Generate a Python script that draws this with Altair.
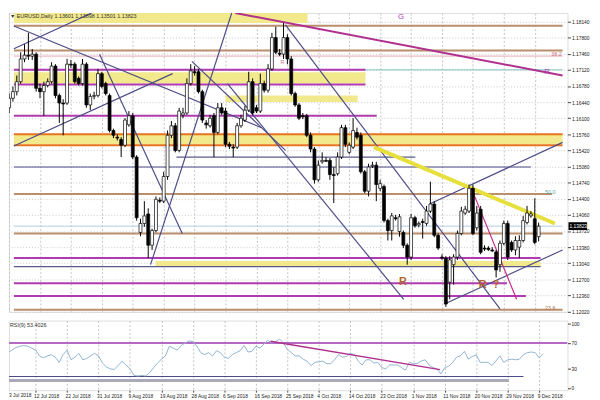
import altair as alt
import pandas as pd

# ---------------- data ----------------
opens = [1.1632,1.1652,1.1666,1.1687,1.1735,1.1743,1.1741,1.1745,1.1673,1.1666,
         1.1679,1.1687,1.1720,1.1658,1.1642,1.1642,1.1724,1.1724,1.1694,1.1683,
         1.1724,1.1638,1.1656,1.1658,1.1704,1.1683,1.1658,1.1584,1.1570,1.1565,
         1.1553,1.1596,1.1615,1.1528,1.1369,1.1388,1.1408,1.1342,1.1373,1.1437,
         1.1435,1.1487,1.1574,1.1594,1.1542,1.1617,1.1621,1.1683,1.1708,1.1708,
         1.1666,1.1600,1.1594,1.1615,1.1580,1.1632,1.1625,1.1555,1.1549,1.1549,
         1.1594,1.1606,1.1627,1.1687,1.1632,1.1625,1.1683,1.1669,1.1714,1.1780,
         1.1747,1.1745,1.1780,1.1735,1.1662,1.1638,1.1615,1.1615,1.1574,1.1545,
         1.1480,1.1518,1.1521,1.1521,1.1491,1.1493,1.1528,1.1590,1.1538,1.1549,
         1.1580,1.1574,1.1497,1.1456,1.1509,1.1511,1.1462,1.1466,1.1394,1.1373,
         1.1400,1.1371,1.1369,1.1342,1.1317,1.1400,1.1385,1.1392,1.1388,1.1414,
         1.1429,1.1363,1.1317,1.1315,1.1264,1.1301,1.1317,1.1367,1.1410,1.1414,
         1.1462,1.1379,1.1418,1.1336,1.1336,1.1332,1.1328,1.1301,1.1346,1.1388,
         1.1348,1.1332,1.1338,1.1352,1.1390,1.1404,1.1398,1.13601]
highs = [1.1662,1.1677,1.1700,1.1749,1.1766,1.1790,1.1756,1.1749,1.1683,1.1687,
         1.1694,1.1728,1.1724,1.1662,1.1650,1.1735,1.1733,1.1728,1.1698,1.1735,
         1.1728,1.1662,1.1666,1.1714,1.1708,1.1687,1.1662,1.1588,1.1576,1.1570,
         1.1610,1.1625,1.1621,1.1532,1.1398,1.1435,1.1420,1.1377,1.1445,1.1443,
         1.1497,1.1584,1.1604,1.1600,1.1632,1.1632,1.1694,1.1724,1.1720,1.1714,
         1.1670,1.1606,1.1617,1.1621,1.1642,1.1642,1.1632,1.1560,1.1555,1.1600,
         1.1617,1.1636,1.1708,1.1694,1.1638,1.1704,1.1689,1.1724,1.1790,1.1803,
         1.1756,1.1811,1.1787,1.1741,1.1666,1.1642,1.1621,1.1619,1.1580,1.1549,
         1.1521,1.1538,1.1528,1.1526,1.1507,1.1538,1.1596,1.1596,1.1559,1.1610,
         1.1590,1.1580,1.1501,1.1514,1.1518,1.1518,1.1480,1.1470,1.1398,1.1410,
         1.1406,1.1408,1.1373,1.1346,1.1408,1.1404,1.1392,1.1398,1.1425,1.1476,
         1.1435,1.1367,1.1323,1.1319,1.1319,1.1323,1.1373,1.1423,1.1425,1.1470,
         1.1470,1.1425,1.1425,1.1342,1.1340,1.1338,1.1332,1.1352,1.1394,1.1394,
         1.1352,1.1361,1.1363,1.1404,1.1425,1.1414,1.1441,1.13898]
lows = [1.1621,1.1645,1.1658,1.1683,1.1728,1.1733,1.1733,1.1666,1.1652,1.1615,
        1.1675,1.1683,1.1652,1.1600,1.1574,1.1638,1.1716,1.1683,1.1679,1.1679,
        1.1632,1.1627,1.1650,1.1654,1.1673,1.1658,1.1580,1.1568,1.1563,1.1528,
        1.1549,1.1592,1.1524,1.1394,1.1361,1.1381,1.1315,1.1332,1.1369,1.1431,
        1.1431,1.1480,1.1568,1.1538,1.1538,1.1610,1.1617,1.1679,1.1700,1.1662,
        1.1600,1.1588,1.1590,1.1528,1.1576,1.1617,1.1549,1.1545,1.1528,1.1545,
        1.1590,1.1602,1.1623,1.1617,1.1621,1.1621,1.1664,1.1664,1.1710,1.1745,
        1.1741,1.1735,1.1724,1.1658,1.1634,1.1606,1.1608,1.1570,1.1538,1.1472,
        1.1476,1.1514,1.1518,1.1480,1.1431,1.1489,1.1524,1.1549,1.1534,1.1545,
        1.1565,1.1493,1.1452,1.1445,1.1505,1.1435,1.1456,1.1390,1.1352,1.1352,
        1.1394,1.1360,1.1336,1.1301,1.1311,1.1379,1.1380,1.1356,1.1383,1.1410,
        1.1359,1.1332,1.1311,1.1212,1.1228,1.1259,1.1311,1.1363,1.1406,1.1410,
        1.1363,1.1373,1.1323,1.1330,1.1330,1.1328,1.1274,1.1286,1.1342,1.1311,
        1.1328,1.1321,1.1315,1.1348,1.1386,1.1400,1.1344,1.13501]
closes = [1.1652,1.1666,1.1687,1.1735,1.1743,1.1741,1.1745,1.1673,1.1666,1.1679,
          1.1687,1.1720,1.1658,1.1642,1.1640,1.1724,1.1722,1.1687,1.1683,1.1724,
          1.1638,1.1656,1.1658,1.1704,1.1677,1.1662,1.1584,1.1574,1.1568,1.1553,
          1.1606,1.1615,1.1528,1.1400,1.1388,1.1404,1.1342,1.1373,1.1439,1.1435,
          1.1487,1.1574,1.1594,1.1542,1.1625,1.1621,1.1683,1.1710,1.1706,1.1666,
          1.1606,1.1596,1.1610,1.1580,1.1632,1.1621,1.1555,1.1551,1.1547,1.1594,
          1.1610,1.1627,1.1687,1.1621,1.1625,1.1683,1.1669,1.1714,1.1780,1.1749,
          1.1745,1.1780,1.1735,1.1662,1.1638,1.1610,1.1613,1.1574,1.1545,1.1480,
          1.1511,1.1521,1.1519,1.1491,1.1489,1.1528,1.1590,1.1555,1.1553,1.1584,
          1.1570,1.1497,1.1456,1.1507,1.1511,1.1470,1.1472,1.1394,1.1373,1.1404,
          1.1398,1.1402,1.1342,1.1317,1.1400,1.1383,1.1388,1.1390,1.1414,1.1429,
          1.1363,1.1336,1.1315,1.1218,1.1311,1.1317,1.1367,1.1414,1.1418,1.1462,
          1.1367,1.1410,1.1327,1.1334,1.1333,1.1330,1.1290,1.1346,1.1388,1.1317,
          1.1332,1.1352,1.1352,1.1394,1.1410,1.1408,1.1348,1.13823]
rsi = [52,55,59,63,65,66,65,62,59,50,
       47,50,52,48,40,52,59,44,48,54,
       44,46,50,54,50,39,33,30,29,35,
       42,36,30,20,19,20,19,24,32,39,
       45,50,65,62,59,66,70,73,72,65,
       55,52,55,50,58,55,48,46,52,55,
       58,66,56,57,65,62,68,74,70,72,
       76,70,60,55,50,50,45,42,35,40,
       41,42,38,38,44,52,48,49,54,52,
       42,36,44,44,39,40,32,30,36,36,
       36,32,28,40,38,38,42,44,36,32,
       30,22,32,34,40,48,50,57,45,49,
       52,40,40,40,35,42,50,40,44,45,
       44,45,52,55,56,55,47,53.4]

date_labels = ["3 Jul 2018", "12 Jul 2018", "22 Jul 2018", "31 Jul 2018", "9 Aug 2018",
               "19 Aug 2018", "28 Aug 2018", "6 Sep 2018", "16 Sep 2018", "25 Sep 2018",
               "4 Oct 2018", "14 Oct 2018", "23 Oct 2018", "1 Nov 2018", "11 Nov 2018",
               "20 Nov 2018", "29 Nov 2018", "9 Dec 2018"]
date_bars = list(range(0, 137, 8))
price_ticks = [1.18140, 1.17800, 1.17460, 1.17120, 1.16780, 1.16440, 1.16100, 1.15760,
               1.15420, 1.15080, 1.14740, 1.14400, 1.14060, 1.13720, 1.13380, 1.13040,
               1.12700, 1.12360, 1.12020]
rsi_ticks = [100, 70, 30, 0]
last_price = 1.13823

# horizontal levels: start bar, end bar, price, kind
lvl_x1 = [-1, -1, -1, -1, -1, -1, -1, -1, -1, 43.3, -1, -1, -1, -1, -1, -1, -1, -1, -1]
lvl_x2 = [145, 145, 145, 145, 92.2, 92.2, 95.1, 145, 145, 105.1, 135.0, 140.5, 145, 145,
          137.5, 137.5, 128.8, 133.7, 145]
lvl_p = [1.1805, 1.1753, 1.1741, 1.1712, 1.1712, 1.1681, 1.1615, 1.1576, 1.1553, 1.1528,
         1.1507, 1.1450, 1.1367, 1.13823, 1.1315, 1.1297, 1.1262, 1.1235, 1.1206]
lvl_kind = ["brown", "brown", "pink", "teal", "magenta", "magenta", "magenta", "orange",
            "orange", "navy1", "navy", "brown", "brown", "bid", "magenta", "navy1",
            "magenta", "magenta", "brown"]

# yellow zones: start bar, end bar, low price, high price
zone_x1 = [-1, -1, 56.0, -1, 37.9]
zone_x2 = [77.2, 92.2, 90.2, 145, 137.5]
zone_lo = [1.1811, 1.1683, 1.1644, 1.1555, 1.1297]
zone_hi = [1.1845, 1.1707, 1.1658, 1.1576, 1.1309]

# trend lines: bar1, price1, bar2, price2, kind
tl_x1 = [-0.75, -0.75, -0.75, 23.4, 71.5, 56.5, 108.8, 112.6, 50.8, 94.4, 119.6, 36.6, 47.3]
tl_p1 = [1.1749, 1.1544, 1.1811, 1.1745, 1.1807, 1.1683, 1.1429, 1.1218, 1.1844, 1.1549,
         1.1462, 1.1301, 1.1730]
tl_x2 = [25.9, 42.3, 65.3, 44.8, 127.0, 102.1, 143.2, 143.2, 143.2, 141.2, 131.3, 57.6, 71.5]
tl_p2 = [1.1849, 1.1704, 1.1590, 1.1367, 1.1208, 1.1228, 1.1559, 1.1332, 1.1700, 1.1388,
         1.1228, 1.1832, 1.1542]
tl_kind = ["navy", "navy", "navy", "navy", "navy", "navy", "navy", "navy", "magenta2",
           "yellow", "pinkline", "navy", "navy"]

# RSI panel levels
rl_x2 = [145, 132.0, 128.3]
rl_v = [70, 18.2, 12.1]
rl_kind = ["rsi70", "navy", "gray"]
div_x = [67.7, 110.8]
div_v = [72.7, 28.8]

# labels on the chart
lab_x = [101.4, 70.7, 139.2, 101.9, 122.5, 126.0, 141.6, 140.0, 140.0]
lab_p = [1.1832, 1.1729, 1.1716, 1.1264, 1.1259, 1.1259, 1.1745, 1.1455, 1.1210]
lab_t = ["G", "R", "R", "R", "R", "?", "38.2", "50.0", "23.6"]
lab_kind = ["mag", "pinktxt", "mag", "brownb", "brownb", "brownb", "pinktxt", "tealtxt", "browntxt"]

# ---------------- styles ----------------
colors = {"brown": "#b98f6e", "pink": "#e8a8b0", "teal": "#7cc4c0", "magenta": "#b03ab0",
          "orange": "#e8731c", "navy": "#4c4c88", "navy1": "#5a5a8e", "bid": "#b4cce0",
          "magenta2": "#b0308e", "yellow": "#e6df3c", "pinkline": "#c8288a",
          "rsi70": "#b46ac4", "gray": "#a9a9b9"}
widths = {"brown": 2, "pink": 1, "teal": 1, "magenta": 2, "orange": 2, "navy": 1.2,
          "navy1": 1.2, "bid": 1, "magenta2": 2, "yellow": 4, "pinkline": 1.2,
          "rsi70": 2.2, "gray": 3}
txt_colors = {"mag": "#b03ab0", "pinktxt": "#d07080", "brownb": "#b0642a",
              "tealtxt": "#5aa8a8", "browntxt": "#b07850"}
txt_sizes = {"mag": 8, "pinktxt": 5.5, "brownb": 11, "tealtxt": 5.5, "browntxt": 5.5}
txt_weights = {"mag": "normal", "pinktxt": "normal", "brownb": "bold",
               "tealtxt": "normal", "browntxt": "normal"}
txt_base = {"mag": "top", "pinktxt": "middle", "brownb": "middle", "tealtxt": "middle",
            "browntxt": "middle"}

FONT = "Liberation Sans"
FS = 5
XD = [1.245, 143.2]
PD = [1.12016, 1.18320]
RD = [-3, 104.5]
W, H1, H2 = 570, 305, 71


def clamp(v, lo, hi):
    return max(lo, min(hi, v))


def clip_seg(x1, y1, x2, y2, xr, yr):
    """Cut a segment to the plotted window (Liang-Barsky)."""
    t0, t1 = 0.0, 1.0
    dx, dy = x2 - x1, y2 - y1
    for p, q in ((-dx, x1 - xr[0]), (dx, xr[1] - x1), (-dy, y1 - yr[0]), (dy, yr[1] - y1)):
        if p == 0:
            if q < 0:
                return None
            continue
        t = q / p
        if p < 0:
            t0 = max(t0, t)
        else:
            t1 = min(t1, t)
    if t0 > t1:
        return None
    return (x1 + t0 * dx, y1 + t0 * dy, x1 + t1 * dx, y1 + t1 * dy)


xs = alt.Scale(domain=XD, nice=False, zero=False)
ps = alt.Scale(domain=PD, nice=False, zero=False)
rs = alt.Scale(domain=RD, nice=False, zero=False)

n = len(closes)
df = pd.DataFrame({"i": list(range(n)), "o": opens, "h": highs, "l": lows, "c": closes})

lv = pd.DataFrame({"x1": [clamp(v, *XD) for v in lvl_x1], "x2": [clamp(v, *XD) for v in lvl_x2],
                   "p": lvl_p, "k": lvl_kind})
lv["col"] = lv.k.map(colors)
lv["w"] = lv.k.map(widths)
zn = pd.DataFrame({"x1": [clamp(v, *XD) for v in zone_x1], "x2": [clamp(v, *XD) for v in zone_x2],
                   "lo": [clamp(v, *PD) for v in zone_lo], "hi": [clamp(v, *PD) for v in zone_hi]})
segs = []
for a, b, c, d, k in zip(tl_x1, tl_p1, tl_x2, tl_p2, tl_kind):
    s = clip_seg(a, b, c, d, XD, PD)
    if s:
        segs.append({"x1": s[0], "p1": s[1], "x2": s[2], "p2": s[3], "col": colors[k], "w": widths[k]})
tl = pd.DataFrame(segs)
lb = pd.DataFrame({"x": lab_x, "p": lab_p, "t": lab_t, "k": lab_kind})

x_main_axis = alt.Axis(values=date_bars, labels=False, ticks=False, domain=False, grid=True,
                       gridDash=[2, 2], gridColor="#c4c4c4", gridWidth=1, title=None)
price_axis = alt.Axis(orient="right", values=price_ticks, format=".5f", grid=True,
                      gridDash=[1, 2], gridColor="#c8c8c8", labelFontSize=FS, labelFont=FONT,
                      labelColor="#222", tickSize=3, tickColor="#444", domain=False,
                      labelPadding=1, title=None, labelOverlap=False, labelFlush=False)


def X(f):
    return alt.X(f, scale=xs, axis=x_main_axis)


def P(f):
    return alt.Y(f, scale=ps, axis=price_axis)


zones = alt.Chart(zn).mark_rect(color="#f2e88c", clip=True).encode(
    x=X("x1:Q"), x2="x2:Q", y=P("lo:Q"), y2="hi:Q")

levels = alt.Chart(lv).mark_rule(clip=True).encode(
    x=X("x1:Q"), x2="x2:Q", y=P("p:Q"),
    color=alt.Color("col:N", scale=None), strokeWidth=alt.StrokeWidth("w:Q", scale=None))

trends = alt.Chart(tl).mark_rule(clip=True).encode(
    x=X("x1:Q"), x2="x2:Q", y=P("p1:Q"), y2="p2:Q",
    color=alt.Color("col:N", scale=None), strokeWidth=alt.StrokeWidth("w:Q", scale=None))

wicks = alt.Chart(df).mark_rule(color="black", strokeWidth=1, clip=True).encode(
    x=X("i:Q"), y=P("l:Q"), y2="h:Q")

bodies = alt.Chart(df).mark_bar(size=3, stroke="black", strokeWidth=0.7, clip=True).encode(
    x=X("i:Q"), y=P("o:Q"), y2="c:Q",
    fill=alt.condition("datum.c >= datum.o", alt.value("white"), alt.value("black")))

text_layers = []
for k in txt_colors:
    sub = lb[lb.k == k]
    text_layers.append(alt.Chart(sub).mark_text(
        color=txt_colors[k], fontSize=txt_sizes[k], fontWeight=txt_weights[k], font=FONT,
        baseline=txt_base[k], clip=True).encode(x=X("x:Q"), y=P("p:Q"), text="t:N"))

title_txt = alt.Chart(pd.DataFrame({"t": ["\u25BC EURUSD,Daily  1.13601 1.13898 1.13501 1.13823"]})).mark_text(
    align="left", baseline="top", fontSize=5.5, font=FONT, color="#333").encode(
    x=alt.value(1), y=alt.value(1), text="t:N")

lp = pd.DataFrame({"p": [last_price], "t": ["1.13823"]})
last_box = alt.Chart(lp).mark_rule(color="black", strokeWidth=8).encode(
    x=alt.value(571), x2=alt.value(590), y=P("p:Q"))
last_txt = alt.Chart(lp).mark_text(color="white", fontSize=FS, font=FONT, align="left").encode(
    x=alt.value(572), y=P("p:Q"), text="t:N")

main = alt.layer(zones, levels, trends, wicks, bodies, *text_layers, title_txt,
                 last_box, last_txt).properties(width=W, height=H1)

# ---------------- RSI panel ----------------
rdf = pd.DataFrame({"i": list(range(n)), "r": rsi})
rl = pd.DataFrame({"x1": [XD[0]] * len(rl_v), "x2": [clamp(v, *XD) for v in rl_x2],
                   "v": rl_v, "k": rl_kind})
rl["col"] = rl.k.map(colors)
rl["w"] = rl.k.map(widths)
dv = pd.DataFrame({"x": div_x, "v": div_v})
rt = pd.DataFrame({"v": rsi_ticks, "t": [str(v) for v in rsi_ticks]})

labexpr = "[" + ",".join("'%s'" % d for d in date_labels) + "][round(datum.value/8)]"
date_axis = alt.Axis(values=date_bars, labelExpr=labexpr, grid=True, gridDash=[2, 2],
                     gridColor="#c4c4c4", labelFontSize=FS, labelFont=FONT, labelColor="#222",
                     labelAlign="left", labelPadding=1, labelOffset=-2, tickSize=2,
                     tickColor="#444", domain=False, title=None, labelOverlap=False,
                     labelFlush=False)
rsi_axis = alt.Axis(orient="right", values=rsi_ticks, grid=False, labels=False,
                    tickSize=3, tickColor="#444", domain=False, title=None)


def RX(f):
    return alt.X(f, scale=xs, axis=date_axis)


def RY(f):
    return alt.Y(f, scale=rs, axis=rsi_axis)


rlev = alt.Chart(rl).mark_rule(clip=True).encode(
    x=RX("x1:Q"), x2="x2:Q", y=RY("v:Q"),
    color=alt.Color("col:N", scale=None), strokeWidth=alt.StrokeWidth("w:Q", scale=None))
rline = alt.Chart(rdf).mark_line(color="#8fb4d2", strokeWidth=1, clip=True).encode(
    x=RX("i:Q"), y=RY("r:Q"))
dline = alt.Chart(dv).mark_line(color="#b0308e", strokeWidth=1.5, clip=True).encode(
    x=RX("x:Q"), y=RY("v:Q"))
rlabels = alt.Chart(rt).mark_text(align="left", baseline="middle", fontSize=FS, font=FONT,
                                   color="#222").encode(
    x=alt.value(W + 4), y=RY("v:Q"), text="t:N")
rtitle = alt.Chart(pd.DataFrame({"t": ["RSI(9) 53.4026"]})).mark_text(
    align="left", baseline="middle", fontSize=5.5, font=FONT, color="#333").encode(
    x=alt.value(1), y=alt.value(5), text="t:N")
first_date = alt.Chart(pd.DataFrame({"t": [date_labels[0]]})).mark_text(
    align="left", baseline="top", fontSize=FS, font=FONT, color="#222").encode(
    x=alt.value(0), y=alt.value(H2 + 3), text="t:N")

rsi_chart = alt.layer(rlev, rline, dline, rlabels, rtitle, first_date).properties(width=W, height=H2)

chart = alt.vconcat(main, rsi_chart, spacing=4).properties(
    padding={"left": 0, "top": 0, "right": 0, "bottom": 0}
).configure_view(stroke="#222", strokeWidth=1).configure(background="white")

chart.save("out.html", embed_options={"renderer": "svg", "actions": False})
